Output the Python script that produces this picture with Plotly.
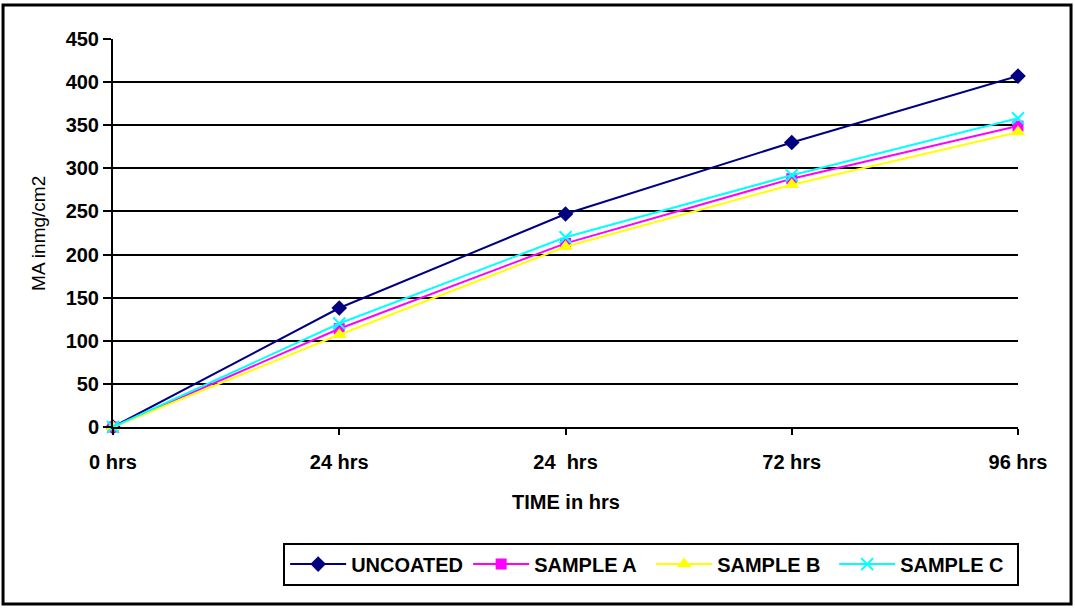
import plotly.graph_objects as go

categories = ["0 hrs", "24 hrs", "24\u00a0\u00a0hrs", "72 hrs", "96 hrs"]
uncoated = [0, 138, 247, 330, 407]
sample_a = [0, 114, 213, 288, 349]
sample_b = [0, 107, 209, 281, 342]
sample_c = [0, 120, 220, 292, 358]

xpos = list(range(len(categories)))
FONT = "Liberation Sans, Arial, sans-serif"

fig = go.Figure()
series = [
    ("UNCOATED", uncoated, "#000080", dict(symbol="diamond", size=12, color="#000080")),
    ("SAMPLE A", sample_a, "#FF00FF", dict(symbol="square", size=11, color="#FF00FF")),
    ("SAMPLE B", sample_b, "#FFFF00", dict(symbol="triangle-up", size=13, color="#FFFF00")),
    ("SAMPLE C", sample_c, "#00FFFF", dict(symbol="x-thin-open", size=12, color="#00FFFF",
                                            line=dict(color="#00FFFF", width=2))),
]
for name, vals, col, mk in series:
    fig.add_trace(go.Scatter(x=xpos, y=vals, name=name, mode="lines+markers",
                             line=dict(color=col, width=2), marker=mk, cliponaxis=False))

fig.update_layout(
    width=1075, height=608,
    margin=dict(l=113, r=57, t=39, b=181),
    paper_bgcolor="white", plot_bgcolor="white",
    font=dict(family=FONT, color="black"),
    showlegend=True,
    legend=dict(orientation="h", x=0.188, xanchor="left", y=-0.298, yanchor="top",
                bordercolor="black", borderwidth=2,
                font=dict(family=FONT, size=20, color="black", weight="bold"),
                itemwidth=56, entrywidth=112, entrywidthmode="pixels", tracegroupgap=0),
    xaxis=dict(range=[0, 4], tickvals=xpos, ticktext=categories,
               showgrid=False, showline=True, linecolor="black", linewidth=2,
               ticks="outside", ticklen=6, tickwidth=2, tickcolor="black",
               ticklabelstandoff=10, zeroline=False,
               tickfont=dict(family=FONT, size=20, color="black", weight="bold")),
    yaxis=dict(range=[0, 450], dtick=50, showgrid=True, gridcolor="black", gridwidth=2,
               showline=True, linecolor="black", linewidth=2, zeroline=False,
               ticks="outside", ticklen=8, tickwidth=2, tickcolor="black",
               tickfont=dict(family=FONT, size=20, color="black", weight="bold")),
    annotations=[
        dict(text="TIME in hrs", x=0.5, xref="paper", y=-0.193, yref="paper",
             xanchor="center", yanchor="middle",
             showarrow=False, font=dict(family=FONT, size=20, color="black", weight="bold")),
        dict(text="MA inmg/cm2", x=-0.083, xref="paper", y=0.5, yref="paper", textangle=-90,
             xanchor="center", yanchor="middle",
             showarrow=False, font=dict(family=FONT, size=19, color="black")),
    ],
    shapes=[
        dict(type="rect", xref="paper", yref="paper", x0=-0.1215, x1=1.0586, y0=-0.456, y1=1.0876,
             line=dict(color="black", width=3)),
    ],
)

fig.write_html("out.html")
